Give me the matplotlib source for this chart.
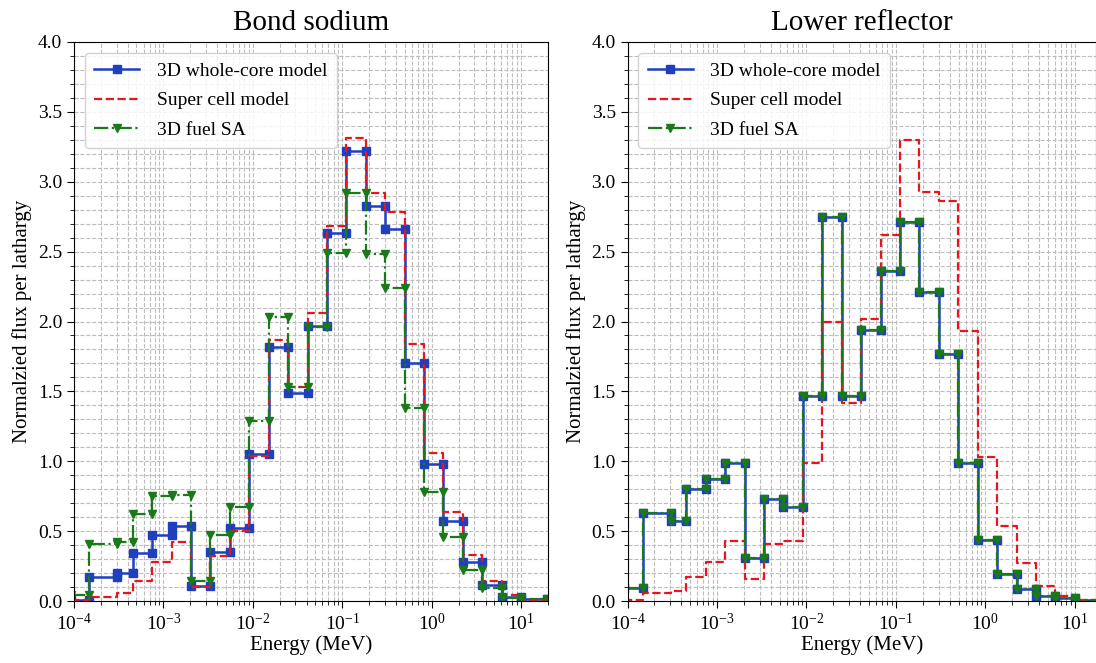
import matplotlib
matplotlib.use("Agg")
import matplotlib.pyplot as plt
import numpy as np
from matplotlib.ticker import MultipleLocator, LogLocator, NullFormatter

plt.rcParams['font.family'] = ['Liberation Serif', 'DejaVu Serif']
plt.rcParams['mathtext.fontset'] = 'stix'

# ECCO 33-group boundaries (MeV), ascending, shown part
edges = [9.1661e-5, 1.4863e-4, 3.0433e-4, 4.5400e-4, 7.4852e-4, 1.2341e-3,
         2.0347e-3, 3.3546e-3, 5.5308e-3, 9.1188e-3, 1.5034e-2, 2.4788e-2,
         4.0868e-2, 6.7379e-2, 0.11109, 0.18316, 0.30197, 0.49787, 0.82085,
         1.3534, 2.2313, 3.6788, 6.0653, 10.0, 19.64]

# Bond sodium
bond_whole = [0.01, 0.17, 0.20, 0.34, 0.47, 0.54, 0.11, 0.35, 0.52, 1.05,
              1.82, 1.49, 1.97, 2.63, 3.22, 2.83, 2.66, 1.70, 0.98, 0.57,
              0.28, 0.115, 0.03, 0.015]
bond_super = [0.01, 0.03, 0.06, 0.14, 0.28, 0.42, 0.10, 0.32, 0.50, 1.04,
              1.87, 1.53, 2.06, 2.68, 3.31, 2.92, 2.78, 1.84, 1.06, 0.64,
              0.33, 0.14, 0.04, 0.01]
bond_fuel = [0.04, 0.41, 0.42, 0.62, 0.75, 0.76, 0.14, 0.47, 0.67, 1.29,
             2.03, 1.53, 1.96, 2.49, 2.92, 2.48, 2.24, 1.38, 0.78, 0.46,
             0.22, 0.09, 0.025, 0.015]

# Lower reflector
refl_whole = [0.09, 0.63, 0.57, 0.80, 0.87, 0.99, 0.31, 0.73, 0.675, 1.47,
              2.745, 1.465, 1.94, 2.36, 2.71, 2.21, 1.77, 0.985, 0.44, 0.19,
              0.085, 0.035, 0.02, 0.01]
refl_super = [0.01, 0.06, 0.07, 0.17, 0.28, 0.43, 0.155, 0.41, 0.43, 0.985,
              2.00, 1.42, 2.015, 2.62, 3.30, 2.93, 2.865, 1.93, 1.03, 0.54,
              0.27, 0.11, 0.035, 0.01]
refl_fuel = list(refl_whole)

titles = ["Bond sodium", "Lower reflector"]
labels = ["3D whole-core model", "Super cell model", "3D fuel SA"]
yticks = [0.0, 0.5, 1.0, 1.5, 2.0, 2.5, 3.0, 3.5, 4.0]


def steps(e, v):
    x, y = [], []
    for i, val in enumerate(v):
        x += [e[i], e[i + 1]]
        y += [val, val]
    return x, y


fig = plt.figure(figsize=(10.96, 6.63), dpi=100)
ax1 = fig.add_axes([74 / 1096, 62 / 663, 474 / 1096, 559 / 663])
ax2 = fig.add_axes([627.5 / 1096, 62 / 663, 468.5 / 1096, 559 / 663])

data = [(bond_whole, bond_super, bond_fuel), (refl_whole, refl_super, refl_fuel)]
xmaxs = [20, 17.2]

for ax, (w, s, f), title, xmax in zip([ax1, ax2], data, titles, xmaxs):
    x, y = steps(edges, w)
    ax.plot(x, y, '-', color='#1f3fbf', lw=1.8, marker='s', ms=6,
            label=labels[0])
    x, y = steps(edges, s)
    ax.plot(x, y, '--', color='#e8141e', lw=1.6, label=labels[1])
    x, y = steps(edges, f)
    ax.plot(x, y, '-.', color='#1a7a1a', lw=1.6, marker='v', ms=6,
            label=labels[2])
    ax.set_xscale('log')
    ax.set_xlim(1e-4, xmax)
    ax.set_ylim(0, 4.0)
    ax.set_yticks(yticks)
    ax.set_yticklabels([f"{t:.1f}" for t in yticks])
    ax.yaxis.set_minor_locator(MultipleLocator(0.1))
    ax.xaxis.set_major_locator(LogLocator(base=10, numticks=10))
    ax.xaxis.set_minor_locator(LogLocator(base=10, subs=np.arange(2, 10), numticks=20))
    ax.xaxis.set_minor_formatter(NullFormatter())
    ax.grid(True, which='both', linestyle='--', color='#bdbdbd', lw=0.8)
    ax.set_axisbelow(True)
    ax.tick_params(axis='both', which='major', labelsize=14, length=5)
    ax.tick_params(axis='both', which='minor', length=3)
    ax.set_title(title, fontsize=21, pad=9)
    ax.set_xlabel("Energy (MeV)", fontsize=15, labelpad=1)
    ax.set_ylabel("Normalzied flux per lathargy", fontsize=15, labelpad=4)
    ax.legend(loc='upper left', fontsize=14, handlelength=2.3,
              handletextpad=0.9, labelspacing=0.6, borderpad=0.5,
              borderaxespad=0.55, framealpha=0.85)

fig.savefig("out.png", dpi=100)
